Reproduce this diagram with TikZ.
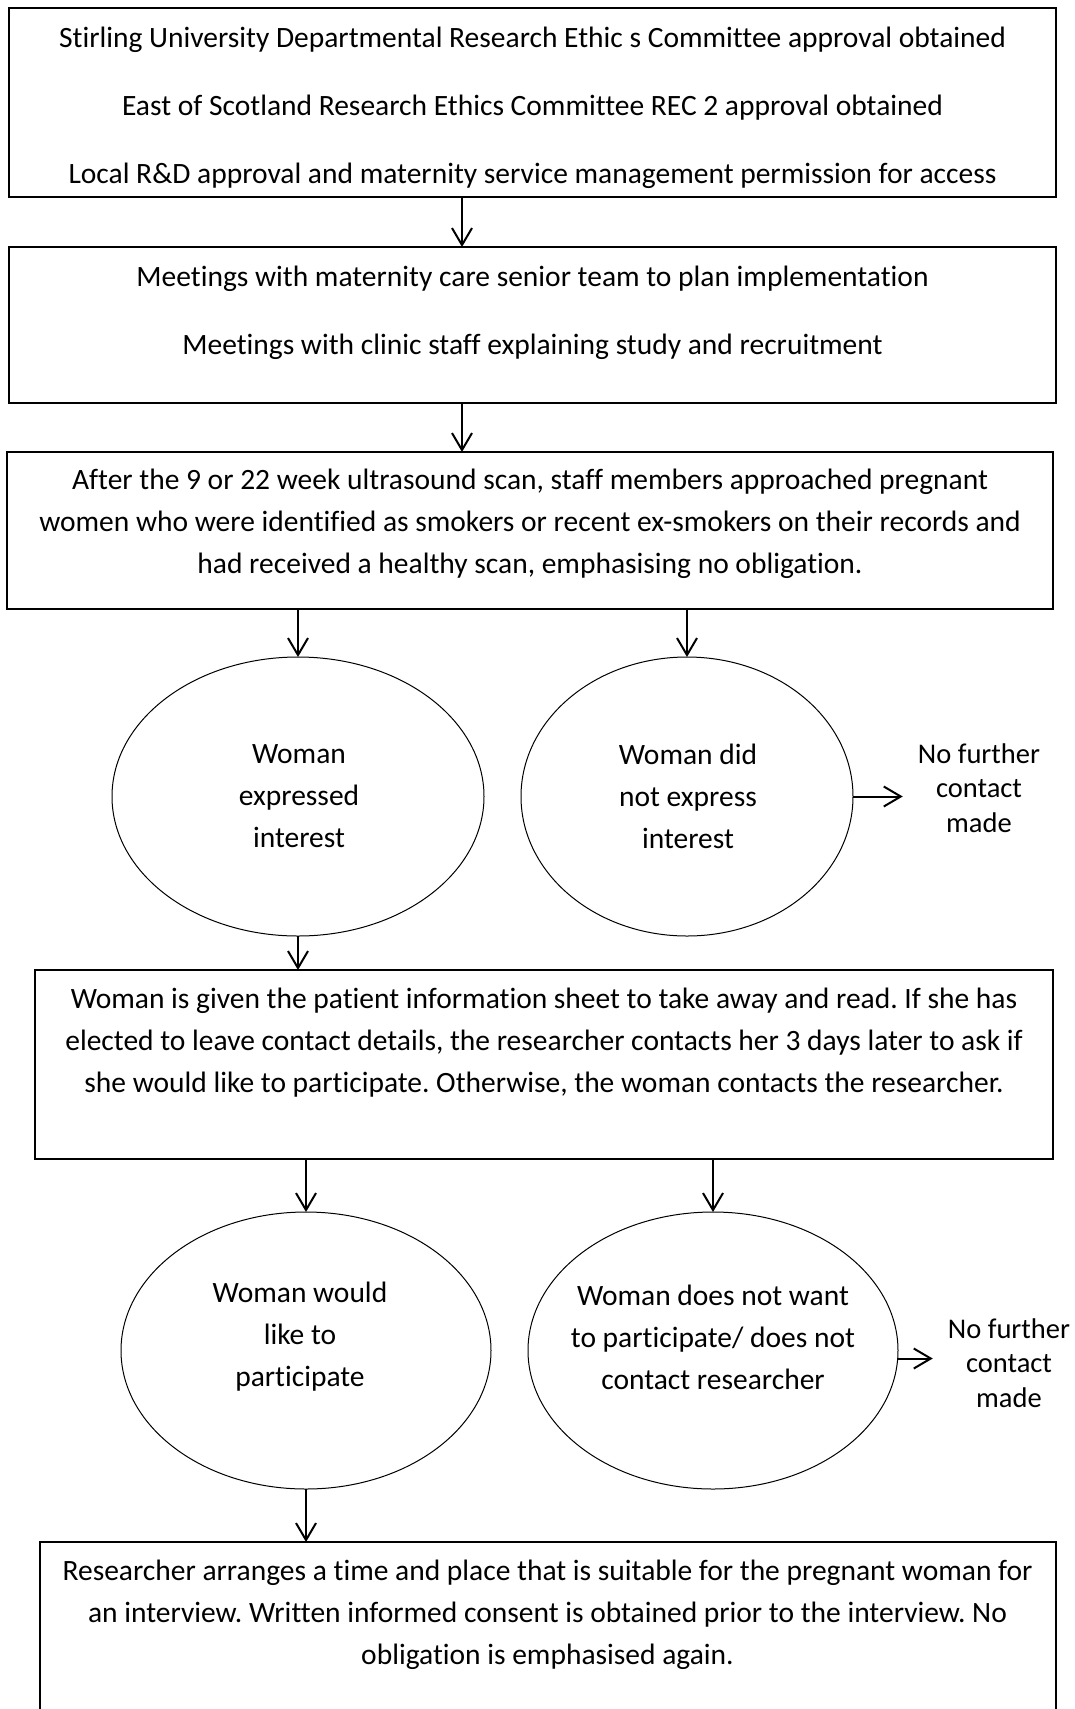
\documentclass[tikz,border=0pt]{standalone}
\usepackage{fontspec}
\setmainfont{Carlito}[Ligatures=NoCommon]
\usetikzlibrary{arrows.meta,shapes.geometric}
\frenchspacing
\begin{document}
\begin{tikzpicture}[x=1pt,y=-1pt,
  box/.style={draw, line width=2pt, rectangle, inner sep=0pt, outer sep=0pt, anchor=north west},
  oval/.style={draw, ellipse, line width=1pt, inner sep=0pt, outer sep=0pt},
  txt/.style={align=center, inner sep=0pt, font=\fontsize{29.5}{42}\selectfont},
  side/.style={align=center, inner xsep=15pt, inner ysep=0pt, font=\fontsize{28.5}{34.5}\selectfont},
  arr/.style={line width=2pt, -{Straight Barb[length=17pt,width=20pt,line width=2pt]}}
]
\useasboundingbox (0,0) rectangle (1075,1709);
\fill[white] (0,0) rectangle (1075,1709);
\clip (0,0) rectangle (1075,1709);

% boxes
\node[box, minimum width=1047pt, minimum height=189pt] (b1) at (9,8) {};
\node[box, minimum width=1047pt, minimum height=156pt] (b2) at (9,247) {};
\node[box, minimum width=1046pt, minimum height=157pt] (b3) at (7,452) {};
\node[box, minimum width=1018pt, minimum height=189pt] (b4) at (35,970) {};
\node[box, minimum width=1016pt, minimum height=230pt] (b5) at (40,1542) {};

% box texts
\node[txt] (t1) at (532.5,108) {Stirling University Departmental Research Ethic s Committee approval obtained\\[26pt]
East of Scotland Research Ethics Committee REC 2 approval obtained\\[26pt]
Local R\&D approval and maternity service management permission for access};
\node[txt] (t2) at (532.5,313) {Meetings with maternity care senior team to plan implementation\\[26pt]
Meetings with clinic staff explaining study and recruitment};
\node[txt] (t3) at (530,524) {After the 9 or 22 week ultrasound scan, staff members approached pregnant\\
women who were identified as smokers or recent ex-smokers on their records and\\
had received a healthy scan, emphasising no obligation.};
\node[txt] (t4) at (544,1043) {Woman is given the patient information sheet to take away and read. If she has\\
elected to leave contact details, the researcher contacts her 3 days later to ask if\\
she would like to participate. Otherwise, the woman contacts the researcher.};
\node[txt] (t5) at (547.5,1615) {Researcher arranges a time and place that is suitable for the pregnant woman for\\
an interview. Written informed consent is obtained prior to the interview. No\\
obligation is emphasised again.};

% ovals
\node[oval, minimum width=372pt, minimum height=279pt] (e1) at (298,796.5) {};
\node[oval, minimum width=332pt, minimum height=279pt] (e2) at (687,796.5) {};
\node[oval, minimum width=370pt, minimum height=277pt] (e3) at (306,1350.5) {};
\node[oval, minimum width=370pt, minimum height=277pt] (e4) at (713,1350.5) {};

\node[txt] (te1) at (299,796) {Woman\\expressed\\interest};
\node[txt] (te2) at (688,796) {Woman did\\not express\\interest};
\node[txt] (te3) at (300,1337) {Woman would\\like to\\participate};
\node[txt] (te4) at (713,1337) {Woman does not want\\to participate/ does not\\contact researcher};

% side notes
\node[side] (nf1) at (979,788) {No further\\contact\\made};
\node[side] (nf2) at (1009,1363) {No further\\contact\\made};

% connectors
\coordinate (ax) at (462,0);
\draw[arr] (b1.south -| ax) -- (b2.north -| ax);
\draw[arr] (b2.south -| ax) -- (b3.north -| ax);
\draw[arr] (b3.south -| e1.north) -- (e1.north);
\draw[arr] (b3.south -| e2.north) -- (e2.north);
\draw[arr] (e1.south) -- (e1.south |- b4.north);
\draw[arr] (b4.south -| e3.north) -- (e3.north);
\draw[arr] (b4.south -| e4.north) -- (e4.north);
\draw[arr] (e3.south) -- (e3.south |- b5.north);
\draw[arr] (e2.east) -- (e2.east -| nf1.west);
\coordinate (s2) at ([yshift=-8pt]e4.east);
\draw[arr] (s2) -- (s2 -| nf2.west);
\end{tikzpicture}
\end{document}
